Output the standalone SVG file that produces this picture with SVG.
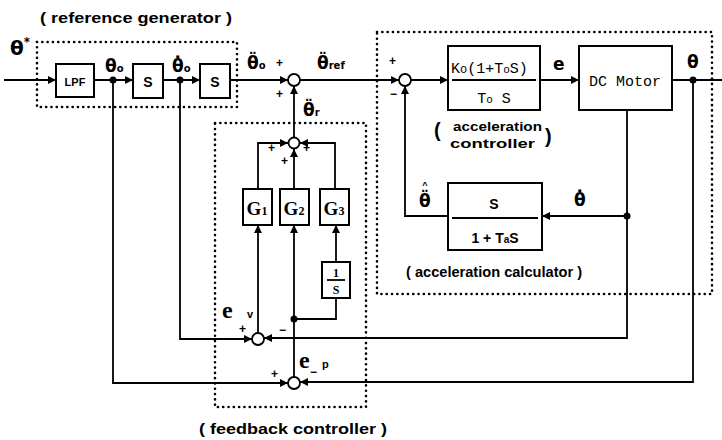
<svg xmlns="http://www.w3.org/2000/svg" width="722" height="440" viewBox="0 0 722 440">
<defs>
<marker id="ar" viewBox="0 0 10 10" refX="10" refY="5" markerWidth="9" markerHeight="8" markerUnits="userSpaceOnUse" orient="auto"><path d="M0,0 L10,5 L0,10 z" fill="#000"/></marker>
</defs>
<style>
.b{fill:#fff;stroke:#000;stroke-width:2}
.ln{fill:none;stroke:#000;stroke-width:1.8}
.a{fill:none;stroke:#000;stroke-width:1.8;marker-end:url(#ar)}
.dot{fill:none;stroke:#000;stroke-width:2.6;stroke-dasharray:0.1 5.2;stroke-linecap:round}
.c{fill:#fff;stroke:#000;stroke-width:1.8}
.t{font-family:"Liberation Sans",Arial,sans-serif;font-weight:bold;fill:#000}
.g{font-family:"DejaVu Sans","Liberation Sans",sans-serif;font-weight:bold;fill:#000}
.s{font-family:"Liberation Serif","Times New Roman",serif;font-weight:bold;fill:#000}
.m{font-family:"Liberation Mono","Courier New",monospace;fill:#000}
</style>

<g id="frames">
<rect class="dot" x="37" y="42" width="200" height="65"/>
<rect class="dot" x="377" y="32" width="335" height="262"/>
<rect class="dot" x="215" y="123" width="151" height="284"/>
<text class="t" x="40" y="23" font-size="15" textLength="192" lengthAdjust="spacingAndGlyphs">( reference generator )</text>
<text class="t" x="199" y="434" font-size="15" textLength="188" lengthAdjust="spacingAndGlyphs">( feedback controller )</text>
</g>

<g id="connectors">
<line class="a" x1="4" y1="80" x2="56" y2="80"/>
<line class="a" x1="94" y1="80" x2="133" y2="80"/>
<line class="a" x1="163" y1="80" x2="200" y2="80"/>
<line class="a" x1="230" y1="80" x2="288" y2="80"/>
<line class="a" x1="300" y1="80" x2="399" y2="80"/>
<line class="a" x1="411" y1="80" x2="448" y2="80"/>
<line class="a" x1="540" y1="80" x2="579" y2="80"/>
<line class="ln" x1="672" y1="80" x2="722" y2="80"/>
<polyline class="a" points="627,110 627,216 542,216"/>
<polyline class="a" points="448,216 405,216 405,86"/>
<polyline class="a" points="627,216 627,338 264,338"/>
<polyline class="a" points="693,80 693,382 300,382"/>
<polyline class="a" points="113,80 113,383 288,383"/>
<polyline class="a" points="180,80 180,339 252,339"/>
<line class="a" x1="258" y1="333" x2="258" y2="225"/>
<line class="a" x1="294" y1="377" x2="294" y2="225"/>
<polyline class="ln" points="294,319 336,319 336,298"/>
<line class="a" x1="336" y1="262" x2="336" y2="225"/>
<polyline class="a" points="258,189 258,143 288,143"/>
<polyline class="a" points="335,189 335,143 300,143"/>
<line class="a" x1="294" y1="189" x2="294" y2="149"/>
<line class="a" x1="294" y1="137" x2="294" y2="86"/>
<circle cx="113" cy="80" r="3.5" fill="#000"/>
<circle cx="180" cy="80" r="3.5" fill="#000"/>
<circle cx="693" cy="80" r="3.5" fill="#000"/>
<circle cx="627" cy="216" r="3.5" fill="#000"/>
<circle cx="294" cy="319" r="3.5" fill="#000"/>
</g>

<g id="lpf"><rect class="b" x="56" y="64" width="38" height="33"/><text class="t" x="75" y="86" font-size="11" text-anchor="middle">LPF</text></g>
<g id="s1"><rect class="b" x="133" y="64" width="30" height="34"/><text class="t" x="148" y="87" font-size="14" text-anchor="middle">S</text></g>
<g id="s2"><rect class="b" x="200" y="64" width="30" height="34"/><text class="t" x="215" y="87" font-size="14" text-anchor="middle">S</text></g>

<g id="sumA"><circle class="c" cx="294" cy="80" r="6"/></g>
<g id="sumB"><circle class="c" cx="405" cy="80" r="6"/></g>
<g id="sumG"><circle class="c" cx="294" cy="143" r="5.5"/></g>
<g id="sumEv"><circle class="c" cx="258" cy="339" r="6"/></g>
<g id="sumEp"><circle class="c" cx="294" cy="383" r="6"/></g>

<g id="acc-controller">
<rect class="b" x="448" y="46" width="92" height="64"/>
<line class="ln" x1="452" y1="80" x2="536" y2="80"/>
<text class="m" x="451" y="73" font-size="15">K<tspan font-size="12">o</tspan>(1+T<tspan font-size="11">o</tspan>S)</text>
<text class="m" x="494" y="103" font-size="15" text-anchor="middle">T<tspan font-size="11">o</tspan> S</text>
<text class="t" x="434" y="137" font-size="20">(</text>
<text class="t" x="545" y="143" font-size="20">)</text>
<text class="t" x="453" y="131" font-size="13" textLength="89" lengthAdjust="spacingAndGlyphs">acceleration</text>
<text class="t" x="450" y="148" font-size="13" textLength="85" lengthAdjust="spacingAndGlyphs">controller</text>
</g>

<g id="dc-motor">
<rect class="b" x="579" y="46" width="93" height="64"/>
<text class="m" x="625" y="86" font-size="15" text-anchor="middle">DC Motor</text>
</g>

<g id="acc-calculator">
<rect class="b" x="448" y="183" width="94" height="67"/>
<line class="ln" x1="452" y1="218" x2="538" y2="218"/>
<text class="t" x="494" y="209" font-size="14" text-anchor="middle">S</text>
<text class="t" x="495" y="243" font-size="14" text-anchor="middle">1 + T<tspan font-size="10">a</tspan>S</text>
<text class="t" x="494" y="277" font-size="14" text-anchor="middle" textLength="176" lengthAdjust="spacingAndGlyphs">( acceleration calculator )</text>
</g>

<g id="G1"><rect class="b" x="243" y="189" width="29" height="36"/><text class="s" x="257" y="215" font-size="19" text-anchor="middle">G<tspan font-size="12">1</tspan></text></g>
<g id="G2"><rect class="b" x="280" y="189" width="29" height="36"/><text class="s" x="294" y="215" font-size="19" text-anchor="middle">G<tspan font-size="12">2</tspan></text></g>
<g id="G3"><rect class="b" x="320" y="189" width="29" height="36"/><text class="s" x="334" y="215" font-size="19" text-anchor="middle">G<tspan font-size="12">3</tspan></text></g>
<g id="integ"><rect class="b" x="322" y="262" width="28" height="36"/><line class="ln" x1="327" y1="280" x2="345" y2="280"/><text class="s" x="336" y="277" font-size="12" text-anchor="middle">1</text><text class="s" x="336" y="294" font-size="12" text-anchor="middle">S</text></g>

<g id="labels">
<text class="g" x="10" y="55" font-size="20">θ<tspan font-size="12" dy="-9">*</tspan></text>
<text class="g" x="105" y="72" font-size="17">θ<tspan font-size="10">o</tspan></text>
<text class="g" x="172" y="72" font-size="17">θ̇<tspan font-size="10">o</tspan></text>
<text class="g" x="247" y="69" font-size="17">θ̈<tspan font-size="10">o</tspan></text>
<text class="g" x="317" y="69" font-size="17">θ̈<tspan font-size="10">ref</tspan></text>
<text class="g" x="303" y="116" font-size="17">θ̈<tspan font-size="10">r</tspan></text>
<text class="g" x="553" y="70" font-size="17">e</text>
<text class="g" x="687" y="68" font-size="17">θ</text>
<text class="g" x="419" y="207" font-size="17">θ̈</text>
<text class="t" x="425" y="188" font-size="9" text-anchor="middle">^</text>
<text class="g" x="574" y="206" font-size="17">θ̇</text>
<text class="s" x="222" y="318" font-size="24">e</text><text class="t" x="247" y="318" font-size="11">v</text>
<text class="s" x="299" y="368" font-size="24">e</text><text class="t" x="322" y="368" font-size="11">p</text>
</g>

<g id="signs" class="t" font-size="12">
<text x="276" y="67">+</text>
<text x="276" y="98">+</text>
<text x="389" y="65">+</text>
<text x="390" y="98">−</text>
<text x="268" y="152">+</text>
<text x="281" y="165">+</text>
<text x="303" y="152">+</text>
<text x="239" y="333">+</text>
<text x="279" y="334">−</text>
<text x="271" y="378">+</text>
<text x="310" y="376">−</text>
</g>
</svg>
